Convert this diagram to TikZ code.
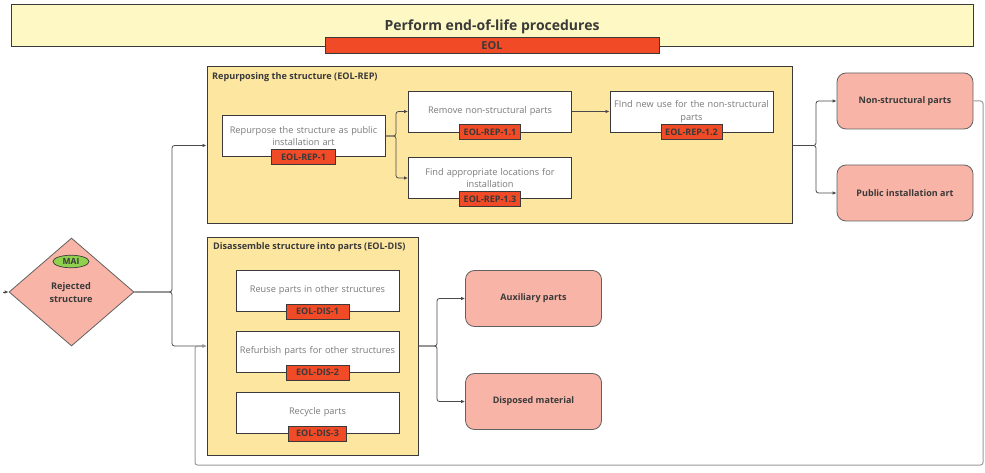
\documentclass[tikz,border=0pt]{standalone}
\usepackage{fontspec}
\setmainfont{Open Sans}
\usetikzlibrary{shapes.geometric,arrows.meta,calc}
\definecolor{titlefill}{HTML}{FEF9C4}
\definecolor{tagred}{HTML}{F04A26}
\definecolor{contfill}{HTML}{FCE6A0}
\definecolor{pinkfill}{HTML}{F8B4A6}
\definecolor{maigreen}{HTML}{8FD14F}
\definecolor{edge}{HTML}{3A3A3A}
\definecolor{boxtext}{HTML}{7A7A7A}
\definecolor{darktext}{HTML}{3A3A3A}
\definecolor{wire}{HTML}{4A4A4A}
\definecolor{loopwire}{HTML}{9A9A9A}
\tikzset{
  taskbox/.style={draw=edge, line width=0.9pt, fill=white, minimum width=163pt, minimum height=41pt, inner sep=1pt, align=center, text width=160pt, font=\fontsize{9.2}{12.5}\selectfont, text=boxtext},
  tagbox/.style={draw=edge, line width=0.9pt, fill=tagred, minimum height=15pt, inner sep=1pt, font=\bfseries\fontsize{9}{10}\selectfont, text=darktext},
  container/.style={draw=edge, line width=1pt, fill=contfill},
  conttitle/.style={anchor=north west, inner sep=0pt, font=\bfseries\fontsize{9.1}{10}\selectfont, text=darktext},
  outcome/.style={draw=edge!80, line width=0.8pt, fill=pinkfill, rounded corners=9pt, minimum width=136pt, minimum height=56pt, font=\bfseries\fontsize{9}{10}\selectfont, text=darktext},
  conn/.style={draw=wire, line width=0.8pt, rounded corners=2.5pt, -{Latex[length=4pt,width=3.5pt]}},
  loopconn/.style={draw=loopwire, line width=1pt, rounded corners=2.5pt, -{Latex[length=4pt,width=3.5pt]}},
}
\begin{document}
\begin{tikzpicture}[x=1pt,y=-1pt]
\useasboundingbox (0,0) rectangle (985,473);
% title
\node[draw=edge, line width=1pt, fill=titlefill, minimum width=962pt, minimum height=42pt, inner sep=0pt] (title) at (492,26) {};
\node[inner sep=0pt, font=\bfseries\fontsize{14}{16}\selectfont, text=darktext] (titletext) at (492,27) {Perform end-of-life procedures};
\node[draw=edge, line width=1pt, fill=tagred, minimum width=334pt, minimum height=16pt, inner sep=0pt, font=\bfseries\fontsize{11}{12}\selectfont, text=darktext] (eol) at (492,46) {EOL};

% containers
\node[container, minimum width=585pt, minimum height=157pt, inner sep=0pt] (rep) at (499.5,145.5) {};
\node[conttitle] (reptitle) at (212,72) {Repurposing the structure (EOL-REP)};
\node[container, minimum width=211pt, minimum height=218pt, inner sep=0pt] (dis) at (312.5,346) {};
\node[conttitle] (distitle) at (213,242) {Disassemble structure into parts (EOL-DIS)};

% REP tasks
\node[taskbox] (r1) at (303.5,136) {Repurpose the structure as public\\installation art};
\node[tagbox, minimum width=64pt] (r1t) at (r1.south) {EOL-REP-1};
\node[taskbox] (r11) at (490,111.5) {Remove non-structural parts};
\node[tagbox, minimum width=61pt] (r11t) at (r11.south) {EOL-REP-1.1};
\node[taskbox] (r12) at (691.5,111.5) {FInd new use for the non-structural\\parts};
\node[tagbox, minimum width=61pt] (r12t) at (r12.south) {EOL-REP-1.2};
\node[taskbox] (r13) at (490,178) {Find appropriate locations for\\installation};
\node[tagbox, minimum width=61pt] (r13t) at (r13.south) {EOL-REP-1.3};

% DIS tasks
\node[taskbox] (d1) at (317.5,290.5) {Reuse parts in other structures};
\node[tagbox, minimum width=63pt] (d1t) at (d1.south) {EOL-DIS-1};
\node[taskbox] (d2) at (317.5,351.5) {Refurbish parts for other structures};
\node[tagbox, minimum width=63pt] (d2t) at (d2.south) {EOL-DIS-2};
\node[taskbox] (d3) at (317.5,412.5) {Recycle parts};
\node[tagbox, minimum width=58pt] (d3t) at (d3.south) {EOL-DIS-3};

% outcomes
\node[outcome] (ns) at (905,101) {Non-structural parts};
\node[outcome] (pub) at (905,193) {Public installation art};
\node[outcome] (aux) at (533.5,298.5) {Auxiliary parts};
\node[outcome] (disp) at (533.5,401.5) {Disposed material};

% diamond
\node[draw=edge!80, line width=0.8pt, fill=pinkfill, diamond, shape aspect=1.157, minimum width=125pt, minimum height=108pt, inner sep=0pt] (dia) at (71.5,292) {};
\node[draw=edge, line width=0.7pt, fill=maigreen, ellipse, minimum width=36pt, minimum height=12.5pt, inner sep=0pt, font=\bfseries\fontsize{8.5}{9}\selectfont, text=darktext] (mai) at (71,261.5) {MAI};
\node[align=center, inner sep=0pt, font=\bfseries\fontsize{9.2}{13}\selectfont, text=darktext] (diatext) at (71,292.5) {Rejected\\structure};

% connectors
\coordinate (src) at (3,292);
\draw[conn] (src) -- (dia.west);
\draw[conn] (dia.east) -- (172,292) |- (rep.west);
\draw[conn] (dia.east) -- (172,292) |- (dis.west);
\draw[conn] (r1.east) -- (396,136) |- (r11.west);
\draw[conn] (r1.east) -- (396,136) |- (r13.west);
\draw[conn] (r11.east) -- (r12.west);
\draw[conn] (rep.east) -- (816,145.5) |- (ns.west);
\draw[conn] (rep.east) -- (816,145.5) |- (pub.west);
\draw[conn] (dis.east) -- (437,346) |- (aux.west);
\draw[conn] (dis.east) -- (437,346) |- (disp.west);
\coordinate (lp1) at (983,465);
\coordinate (lp2) at (195,465);
\draw[loopconn] (ns.east) -| (lp1) -- (lp2) |- (dis.west);
\end{tikzpicture}
\end{document}
